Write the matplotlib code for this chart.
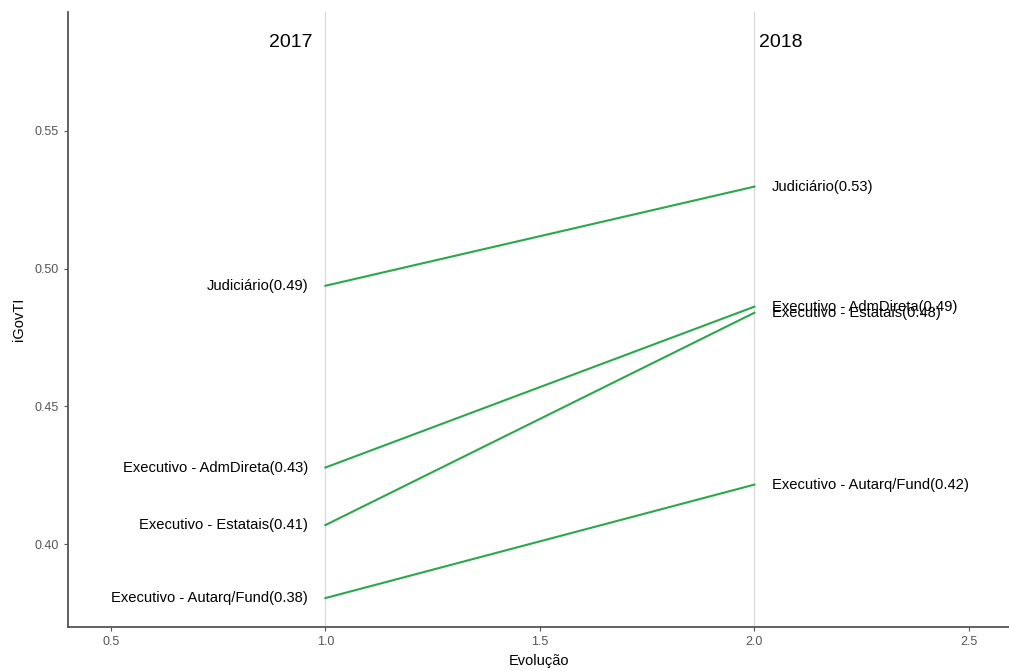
import numpy as np
import matplotlib.pyplot as plt

plt.rcParams['font.family'] = ['Liberation Sans', 'DejaVu Sans']

# dados iGovTI por segmento
segmentos = ['Judiciário', 'Executivo - AdmDireta', 'Executivo - Estatais', 'Executivo - Autarq/Fund']
valores_2017 = [0.4938, 0.4278, 0.4069, 0.3804]
valores_2018 = [0.5298, 0.4862, 0.4840, 0.4216]
anos_x = [1, 2]

fig = plt.figure(figsize=(10.09, 6.71), dpi=100)
ax = fig.add_axes([68 / 1009, 1 - 627 / 671, 1 - 68 / 1009, (627 - 12) / 671])

for x in anos_x:
    ax.axvline(x, color='#d9d9d9', linewidth=0.8, zorder=1)

for seg, v1, v2 in zip(segmentos, valores_2017, valores_2018):
    ax.plot(anos_x, [v1, v2], color='#2aa84a', linewidth=1.5, zorder=2)
    ax.text(anos_x[0] - 0.04, v1, f"{seg}({v1:.2f})", ha='right', va='center', fontsize=10.6)
    ax.text(anos_x[1] + 0.04, v2, f"{seg}({v2:.2f})", ha='left', va='center', fontsize=10.6)

ax.text(anos_x[0] - 0.03, 0.5822, '2017', ha='right', va='center', fontsize=14)
ax.text(anos_x[1] + 0.01, 0.5822, '2018', ha='left', va='center', fontsize=14)

ax.set_xlim(0.4, 0.4 + (1009 - 68) / 429)
ax.set_ylim(0.3699, 0.5932)
ax.set_xticks([0.5, 1.0, 1.5, 2.0, 2.5])
ax.set_yticks([0.40, 0.45, 0.50, 0.55])
ax.set_xticklabels(['0.5', '1.0', '1.5', '2.0', '2.5'])
ax.set_yticklabels(['0.40', '0.45', '0.50', '0.55'])
ax.tick_params(colors='#555555', labelcolor='#555555', labelsize=9, length=3)
ax.set_xlabel('Evolução', fontsize=10.5, labelpad=4)
ax.set_ylabel('iGovTI', fontsize=10.5, labelpad=6)

for lado in ['top', 'right']:
    ax.spines[lado].set_visible(False)
for lado in ['left', 'bottom']:
    ax.spines[lado].set_color('#555555')
    ax.spines[lado].set_linewidth(1.3)

fig.savefig('out.png', dpi=100)
